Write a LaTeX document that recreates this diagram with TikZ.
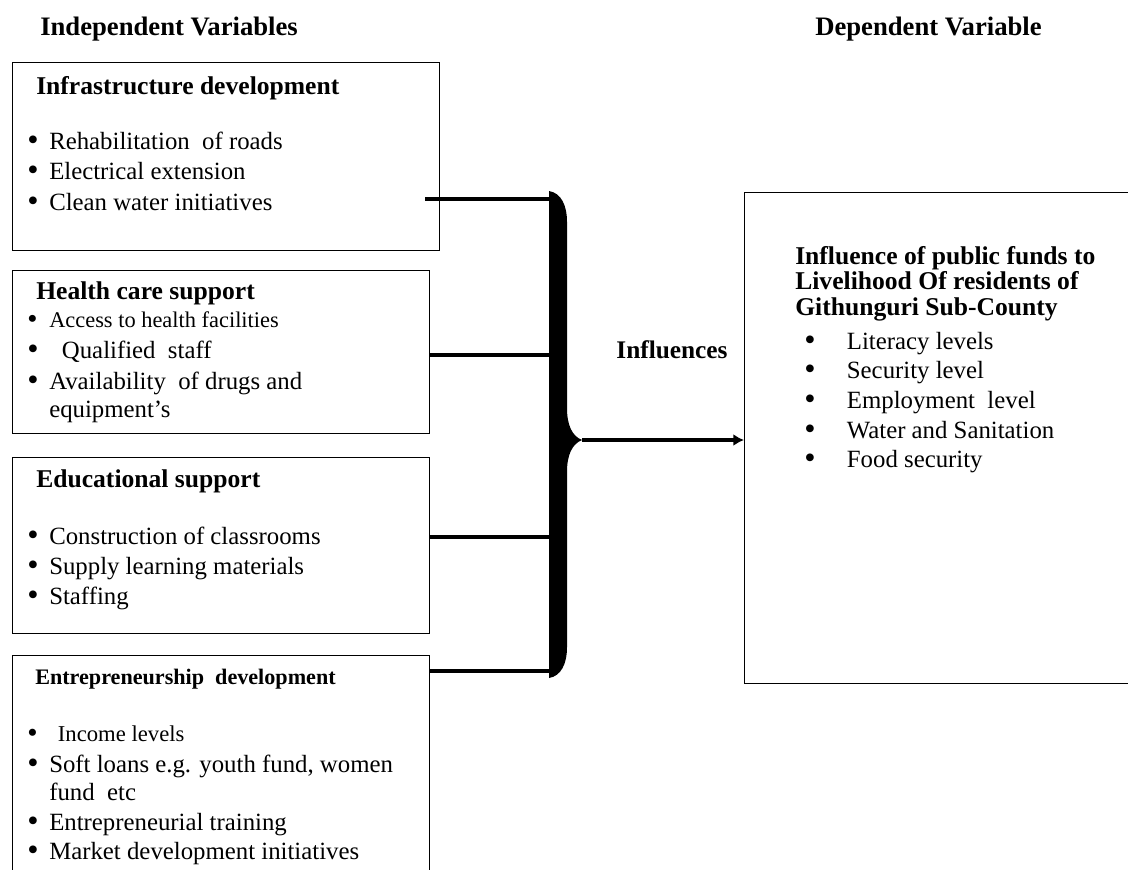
\documentclass[tikz,border=0pt]{standalone}
\usepackage{fontspec}
\setmainfont{Liberation Serif}
\usetikzlibrary{arrows.meta}

\newcommand{\bul}[1][16.5pt]{\makebox[#1][l]{\smash{\raisebox{-0.06em}{\scalebox{1.3}{\textbullet}}}}}

\begin{document}
\begin{tikzpicture}[x=0.75pt,y=-0.75pt,
  box/.style={draw,line width=1pt,inner sep=0pt,anchor=north west},
  line/.style={anchor=base west,inner sep=0pt,font=\fontsize{18.6}{22}\selectfont},
  small/.style={anchor=base west,inner sep=0pt,font=\fontsize{16.8}{20}\selectfont},
  title/.style={anchor=base west,inner sep=0pt,font=\bfseries\fontsize{19.2}{22}\selectfont}]
\useasboundingbox (0,0) rectangle (1128,869);

% headings
\node[title,font=\bfseries\fontsize{20}{22}\selectfont] (iv) at (40,35) {Independent Variables};
\node[title,font=\bfseries\fontsize{20}{22}\selectfont] (dvh) at (815,35) {Dependent Variable};

% boxes
\node[box,minimum width=320.25pt,minimum height=141pt] (infra) at (12,62) {};
\node[box,minimum width=312.75pt,minimum height=122.25pt] (health) at (12,270) {};
\node[box,minimum width=312.75pt,minimum height=132pt] (edu) at (12,457) {};
\node[box,minimum width=312.75pt,minimum height=176.25pt] (entre) at (12,655) {};
\node[box,minimum width=297pt,minimum height=368.25pt] (dv) at (744,192) {};

\node[title] (t1) at (36,94) {Infrastructure development};
\node[line] (i1) at (27,149) {\bul Rehabilitation\ \ of roads};
\node[line] (i2) at (27,179) {\bul Electrical extension};
\node[line] (i3) at (27,210) {\bul Clean water initiatives};

\node[title] (t2) at (36,299) {Health care support};
\node[small] (h1) at (27,327) {\bul[16.5pt]Access to health facilities};
\node[line] (h2) at (27,358) {\bul[26pt]Qualified\ \ staff};
\node[line] (h3) at (27,389) {\bul Availability\ \ of drugs and};
\node[line] (h4) at (49,417) {equipment’s};

\node[title] (t3) at (36,487) {Educational support};
\node[line] (e1) at (27,544) {\bul Construction of classrooms};
\node[line] (e2) at (27,574) {\bul Supply learning materials};
\node[line] (e3) at (27,604) {\bul Staffing};

\node[title,font=\bfseries\fontsize{16.6}{20}\selectfont] (t4) at (35,684) {Entrepreneurship\ \ development};
\node[small,font=\fontsize{17}{20}\selectfont] (n1) at (27,741) {\bul[23pt]Income levels};
\node[line] (n2) at (27,772) {\bul Soft loans e.g. youth fund, women};
\node[line] (n3) at (49,800) {fund\ \ etc};
\node[line] (n4) at (27,830) {\bul Entrepreneurial training};
\node[line] (n5) at (27,859) {\bul Market development initiatives};

\node[title] (t5) at (795,264) {Influence of public funds to};
\node[title] (t6) at (795,289) {Livelihood Of residents of};
\node[title] (t7) at (795,315) {Githunguri Sub-County};
\node[line] (d1) at (804,349) {\bul[32pt]Literacy levels};
\node[line] (d2) at (804,378) {\bul[32pt]Security level};
\node[line] (d3) at (804,408) {\bul[32pt]Employment\ \ level};
\node[line] (d4) at (804,438) {\bul[32pt]Water and Sanitation};
\node[line] (d5) at (804,467) {\bul[32pt]Food security};

\node[font=\bfseries\fontsize{19}{22}\selectfont] (infl) at (672,350) {Influences};

% brace ends
\coordinate (s1) at (425,199);
\coordinate (b1) at (553,199);
\coordinate (b2) at (553,355);
\coordinate (b3) at (553,537);
\coordinate (b4) at (553,671);
\coordinate (tip) at (582,440);

\path[line width=2.6pt]
(s1) edge (b1)
(health.east |- b2) edge (b2)
(edu.east |- b3) edge (b3)
(entre.east |- b4) edge (b4)
;
\fill (549,191) .. controls (561,193) and (567,205) .. (567,222) -- (567,408)
  .. controls (567,425) and (572,436) .. (tip)
  .. controls (572,444) and (567,455) .. (567,472) -- (567,647)
  .. controls (567,664) and (561,676) .. (549,678) -- cycle;
\draw[line width=2.6pt,-{Latex[length=8pt,width=9pt]}] (tip) -- (dv.west |- tip);
\end{tikzpicture}
\end{document}
